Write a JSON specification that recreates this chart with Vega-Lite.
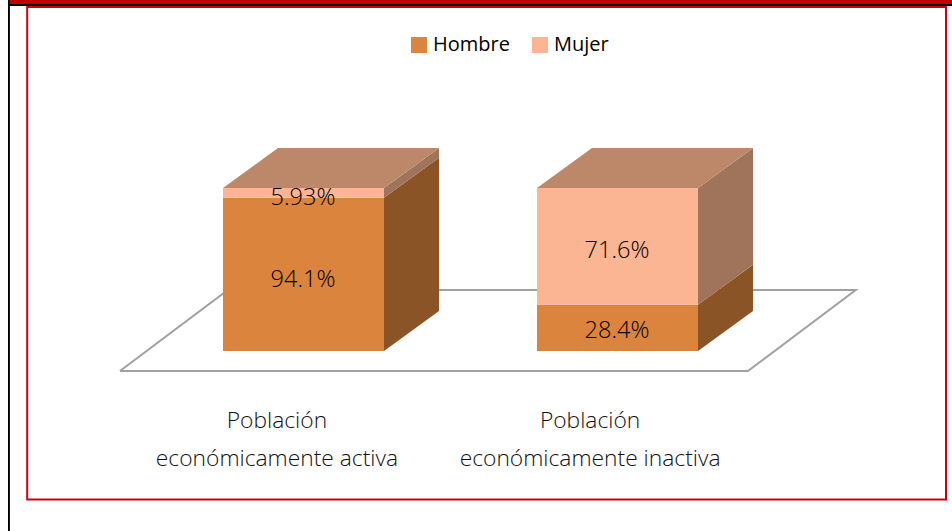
{
"$schema":"https://vega.github.io/schema/vega-lite/v6.json",
"width":952,"height":531,
"autosize":{"type":"fit","contains":"padding"},
"padding":0,
"background":"white",
"config":{"view":{"stroke":null}},
"encoding":{
 "x":{"field":"x","type":"quantitative","axis":null,"scale":{"domain":[-1.3851,4.528],"nice":false,"zero":false}},
 "y":{"field":"y","type":"quantitative","axis":null,"stack":null,"scale":{"domain":[-110.43,215.34],"nice":false,"zero":false}}
},
"layer":[
 {"data":{"values":[
   {"x":-1.3354,"x2":-1.3236,"y":215.34,"y2":-110.43},
   {"x":-1.3354,"x2":4.528,"y":212.88,"y2":211.66}]},
  "mark":{"type":"rect","fill":"#000000"},
  "encoding":{"x2":{"field":"x2"},"y2":{"field":"y2"}}},
 {"data":{"values":[{"x":-1.3236,"x2":4.528,"y":215.34,"y2":212.88}]},
  "mark":{"type":"rect","fill":"#C00000"},
  "encoding":{"x2":{"field":"x2"},"y2":{"field":"y2"}}},
 {"data":{"values":[{"x":-1.2161,"x2":4.4907,"y":211.04,"y2":-91.1}]},
  "mark":{"type":"rect","fill":null,"stroke":"#C8000F","strokeWidth":2},
  "encoding":{"x2":{"field":"x2"},"y2":{"field":"y2"}}},
 {"data":{"values":[
   {"orden":1,"x":-0.64,"y":-12.27},
   {"orden":2,"x":3.26,"y":-12.27},
   {"orden":3,"x":3.93,"y":37.42},
   {"orden":4,"x":0.03,"y":37.42},
   {"orden":5,"x":-0.64,"y":-12.27}]},
  "mark":{"type":"line","stroke":"#A0A0A0","strokeWidth":2},
  "encoding":{"order":{"field":"orden","type":"quantitative"}}},
 {"data":{"values":[
   {"id":"a1","cara":"Hombre","x":0,"y":0,"y2":94.07},
   {"id":"a1","cara":"Hombre","x":1,"y":0,"y2":94.07},
   {"id":"a2","cara":"Mujer","x":0,"y":94.07,"y2":100},
   {"id":"a2","cara":"Mujer","x":1,"y":94.07,"y2":100},
   {"id":"a3","cara":"Hombre lateral","x":1,"y":0,"y2":94.07},
   {"id":"a3","cara":"Hombre lateral","x":1.3416,"y":24.54,"y2":118.61},
   {"id":"a4","cara":"Mujer lateral","x":1,"y":94.07,"y2":100},
   {"id":"a4","cara":"Mujer lateral","x":1.3416,"y":118.61,"y2":124.54},
   {"id":"a5","cara":"Superior","x":0,"y":100,"y2":100},
   {"id":"a5","cara":"Superior","x":0.3416,"y":100,"y2":124.54},
   {"id":"a5","cara":"Superior","x":1,"y":100,"y2":124.54},
   {"id":"a5","cara":"Superior","x":1.3416,"y":124.54,"y2":124.54},
   {"id":"b1","cara":"Hombre","x":1.9503,"y":0,"y2":28.4},
   {"id":"b1","cara":"Hombre","x":2.9503,"y":0,"y2":28.4},
   {"id":"b2","cara":"Mujer","x":1.9503,"y":28.4,"y2":100},
   {"id":"b2","cara":"Mujer","x":2.9503,"y":28.4,"y2":100},
   {"id":"b3","cara":"Hombre lateral","x":2.9503,"y":0,"y2":28.4},
   {"id":"b3","cara":"Hombre lateral","x":3.2919,"y":24.54,"y2":52.94},
   {"id":"b4","cara":"Mujer lateral","x":2.9503,"y":28.4,"y2":100},
   {"id":"b4","cara":"Mujer lateral","x":3.2919,"y":52.94,"y2":124.54},
   {"id":"b5","cara":"Superior","x":1.9503,"y":100,"y2":100},
   {"id":"b5","cara":"Superior","x":2.2919,"y":100,"y2":124.54},
   {"id":"b5","cara":"Superior","x":2.9503,"y":100,"y2":124.54},
   {"id":"b5","cara":"Superior","x":3.2919,"y":124.54,"y2":124.54}]},
  "mark":{"type":"area","opacity":1},
  "encoding":{
   "y2":{"field":"y2"},
   "detail":{"field":"id"},
   "color":{"field":"cara","type":"nominal",
    "scale":{"domain":["Hombre","Mujer","Hombre lateral","Mujer lateral","Superior"],
             "range":["#DB843D","#FBB592","#8B5426","#A0745A","#BC8869"]},
    "legend":{"values":["Hombre","Mujer"],"title":null,"orient":"none","direction":"horizontal",
      "legendX":409,"legendY":35,"symbolType":"square","symbolSize":256,"symbolStrokeWidth":0,
      "labelFont":"Open Sans","labelFontSize":20,"labelColor":"#000000","labelOffset":4,"columnPadding":20}}
  }},
 {"data":{"values":[
   {"x":0.4969,"y":93.87,"etiqueta":"5.93%"},
   {"x":0.4969,"y":43.56,"etiqueta":"94.1%"},
   {"x":2.447,"y":61.35,"etiqueta":"71.6%"},
   {"x":2.447,"y":12.27,"etiqueta":"28.4%"}]},
  "mark":{"type":"text","font":"Open Sans","fontWeight":300,"fontSize":23.5,"color":"#000000","align":"center","baseline":"middle"},
  "encoding":{"text":{"field":"etiqueta"}}},
 {"data":{"values":[
   {"x":0.335,"y":-42.94,"etiqueta":"Población"},
   {"x":0.335,"y":-66.25,"etiqueta":"económicamente activa"},
   {"x":2.28,"y":-42.94,"etiqueta":"Población"},
   {"x":2.28,"y":-66.25,"etiqueta":"económicamente inactiva"}]},
  "mark":{"type":"text","font":"Open Sans","fontWeight":300,"fontSize":22.8,"color":"#111111","align":"center","baseline":"middle"},
  "encoding":{"text":{"field":"etiqueta"}}}
]
}
